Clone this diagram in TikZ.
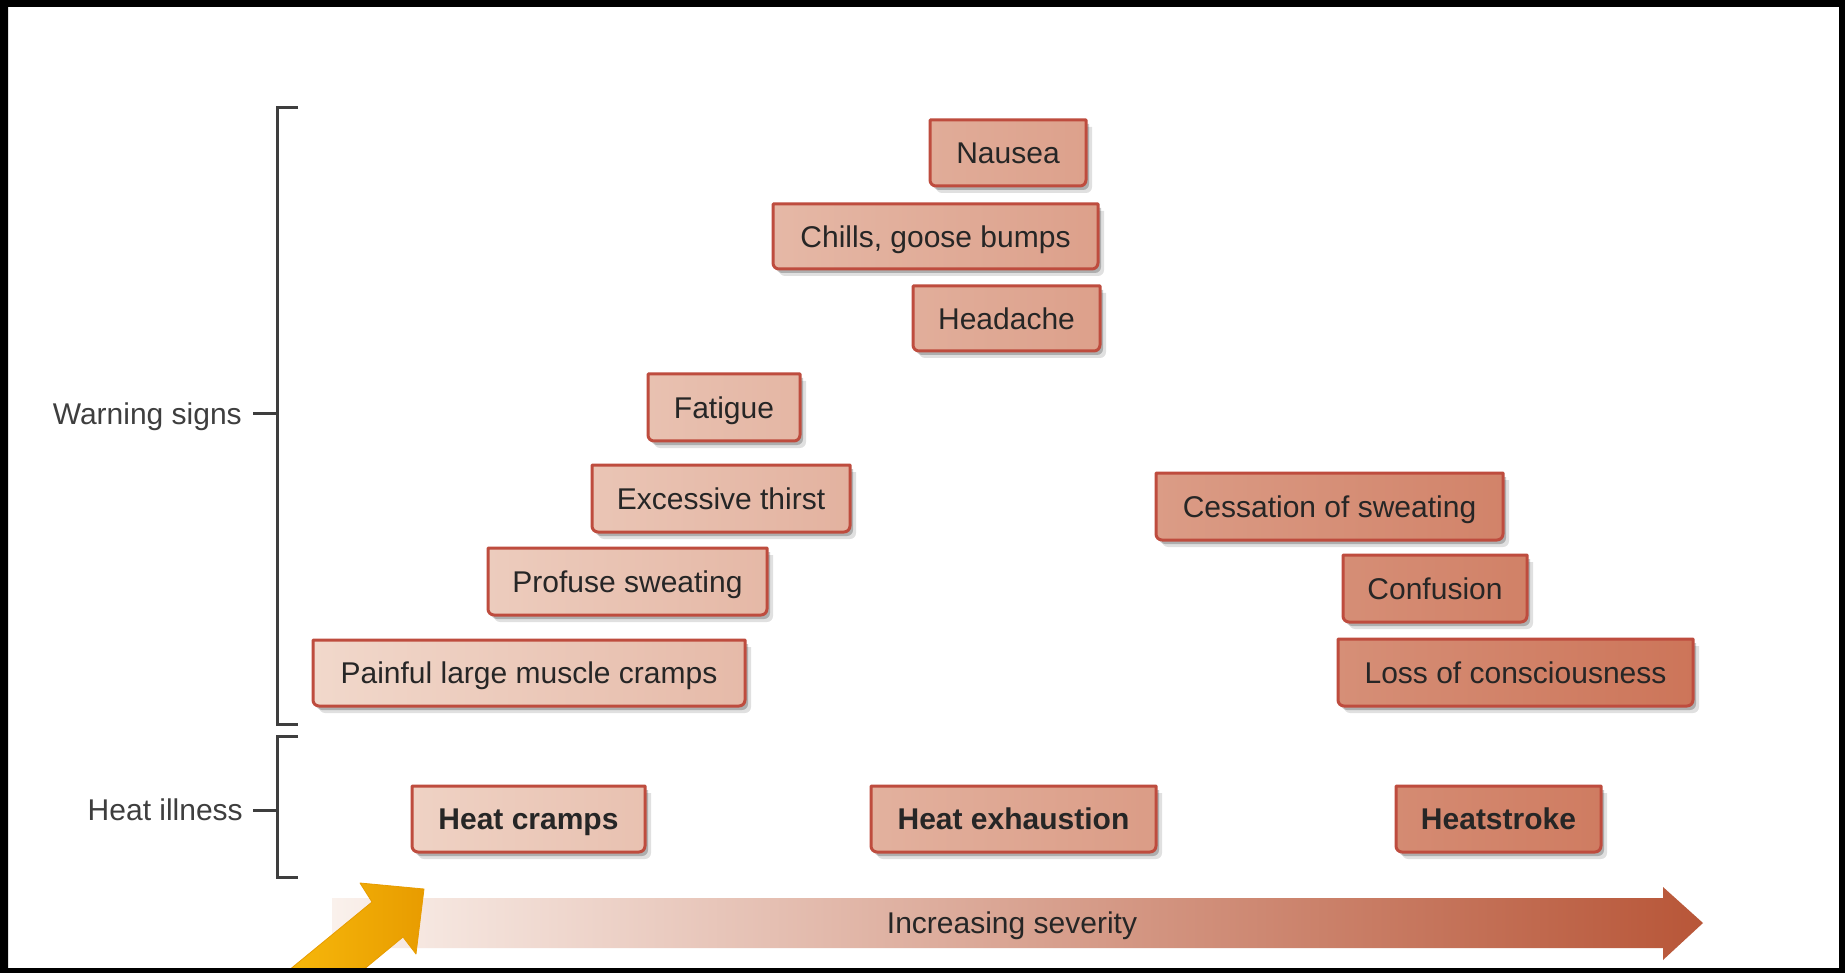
\documentclass[tikz,border=0pt]{standalone}
\usepackage{fontspec}
\setmainfont{Liberation Sans}
\usetikzlibrary{backgrounds}
\definecolor{sevL}{RGB}{241,216,203}
\definecolor{sevR}{RGB}{204,116,88}
\definecolor{boxedge}{RGB}{190,76,62}
\definecolor{txt}{RGB}{38,38,38}
\definecolor{brk}{RGB}{62,62,62}
\definecolor{arL}{RGB}{250,241,236}
\definecolor{arM}{RGB}{224,170,147}
\definecolor{arR}{RGB}{184,86,56}
\definecolor{goldA}{RGB}{248,186,12}
\definecolor{goldB}{RGB}{232,156,0}
\tikzset{
 symtext/.style={inner sep=0pt, text=txt, font=\fontsize{30}{36}\selectfont, text height=21.5pt, text depth=0pt},
 boxline/.style={draw=boxedge, line width=3pt, line join=round},
 bracket/.style={draw=brk, line width=3pt},
 sidelabel/.style={inner sep=0pt, text=brk, font=\fontsize{30}{36}\selectfont, anchor=east, text height=21.5pt, text depth=0pt},
}
% #1 name, #2 x1, #3 y1, #4 x2, #5 y2 (image pixels), #6 font, #7 text
\newcommand\symb[7]{%
  \node[symtext, minimum width={#4pt-#2pt}, minimum height={#5pt-#3pt}] (#1) at ({(#2+#4)/2},{-(#3+#5)/2}) {#6#7};
  \pgfmathtruncatemacro\symtl{max(0,min(100,(#2-320)/13.8))}%
  \pgfmathtruncatemacro\symtr{max(0,min(100,(#4-320)/13.8))}%
  \begin{scope}[on background layer]
    \fill[black, opacity=0.12, shift={(6,-7)}] (#2,-#3) -- (#4,-#3) -- (#4,-#5+6) arc[start angle=0,end angle=-90,radius=6] -- (#2+6,-#5) arc[start angle=270,end angle=180,radius=6] -- cycle;
    \fill[black, opacity=0.22, shift={(3,-4)}] (#2,-#3) -- (#4,-#3) -- (#4,-#5+6) arc[start angle=0,end angle=-90,radius=6] -- (#2+6,-#5) arc[start angle=270,end angle=180,radius=6] -- cycle;
    \shade[left color=sevR!\symtl!sevL, right color=sevR!\symtr!sevL] (#2,-#3) -- (#4,-#3) -- (#4,-#5+6) arc[start angle=0,end angle=-90,radius=6] -- (#2+6,-#5) arc[start angle=270,end angle=180,radius=6] -- cycle;
    \draw[boxline] (#2,-#3) -- (#4,-#3) -- (#4,-#5+6) arc[start angle=0,end angle=-90,radius=6] -- (#2+6,-#5) arc[start angle=270,end angle=180,radius=6] -- cycle;
  \end{scope}%
}
\begin{document}
\begin{tikzpicture}[x=1pt,y=1pt]
\useasboundingbox (0,0) rectangle (1845,-973);
\begin{scope}[on background layer]
  \fill[white] (0,0) rectangle (1845,-973);
\end{scope}

% brackets
\draw[bracket] (298,-108) -- (277,-108) -- (277,-724) -- (298,-724);
\draw[bracket] (298,-736) -- (277,-736) -- (277,-877) -- (298,-877);
\node[sidelabel] (warn) at (242,-414) {Warning signs};
\node[sidelabel] (ill) at (243,-810) {Heat illness};
\draw[bracket] ([xshift=11pt]warn.east |- 0,-414) -- (277,-414);
\draw[bracket] ([xshift=10pt]ill.east |- 0,-810) -- (277,-810);

% warning sign boxes
\symb{nausea}{930}{120}{1086}{186}{}{Nausea}
\symb{chills}{773}{204}{1098}{269}{}{Chills, goose bumps}
\symb{headache}{913}{286}{1100}{351}{}{Headache}
\symb{fatigue}{648}{374}{800}{441}{}{Fatigue}
\symb{thirst}{592}{465}{850}{532}{}{Excessive thirst}
\symb{profuse}{488}{548}{767}{615}{}{Profuse sweating}
\symb{painful}{313}{640}{745}{706}{}{Painful large muscle cramps}
\symb{cessation}{1156}{473}{1503}{540}{}{Cessation of sweating}
\symb{confusion}{1343}{555}{1527}{622}{}{Confusion}
\symb{loss}{1338}{639}{1693}{706}{}{Loss of consciousness}
% heat illness boxes
\symb{cramps}{412}{786}{645}{852}{\bfseries}{Heat cramps}
\symb{exhaustion}{871}{786}{1156}{852}{\bfseries}{Heat exhaustion}
\symb{stroke}{1396}{786}{1601}{852}{\bfseries}{Heatstroke}

% severity arrow
\shade[left color=arL, middle color=arM, right color=arR]
  (332,-898) -- (1663,-898) -- (1663,-887) -- (1703,-923) -- (1663,-960) -- (1663,-948) -- (332,-948) -- cycle;
\node[symtext] (sev) at (1012,-923) {Increasing severity};

% gold pointer arrow
\shade[left color=goldA, right color=goldB, draw=goldB, line width=0.8pt, line join=round]
  (277,-980) -- (372,-902) -- (360,-883) -- (424,-889) -- (416,-954) -- (403,-937) -- (351,-980) -- cycle;

% frame
\fill[black, even odd rule] (0,0) rectangle (1845,-973) (8,-7) rectangle (1839,-968);
\end{tikzpicture}
\end{document}
